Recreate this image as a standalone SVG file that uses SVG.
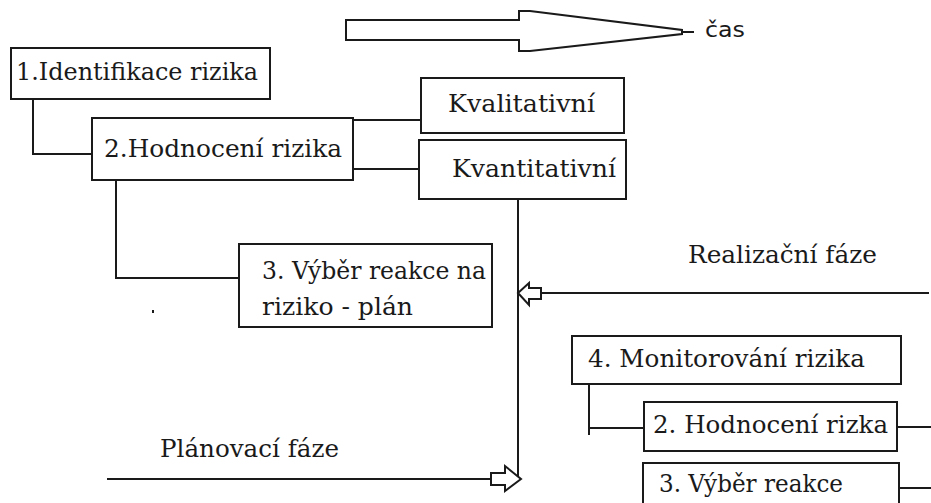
<svg xmlns="http://www.w3.org/2000/svg" width="931" height="503" viewBox="0 0 931 503">
<style>
.box{fill:#fff;stroke:#1a1a1a;stroke-width:2}
.ln{fill:none;stroke:#1a1a1a;stroke-width:2}
.arr{fill:#fff;stroke:#1a1a1a;stroke-width:2;stroke-linejoin:miter}
.t{font-family:"DejaVu Serif","Liberation Serif",serif;font-size:24px;fill:#1a1a1a}
.s{font-family:"DejaVu Sans","Liberation Sans",sans-serif;font-size:21px;fill:#1a1a1a}
</style>
<rect width="931" height="503" fill="#fff"/>
<g id="connectors">
<polyline class="ln" points="33,99 33,154 103,154"/>
<line class="ln" x1="353" y1="120" x2="426" y2="120"/>
<line class="ln" x1="353" y1="169" x2="419" y2="169"/>
<polyline class="ln" points="116,180 116,278 239,278"/>
<line class="ln" x1="518" y1="199" x2="518" y2="480"/>
<line class="ln" x1="541" y1="293" x2="929" y2="293"/>
<polygon class="arr" points="518,293 529,283 529,288 541,288 541,299 529,299 529,305"/>
<line class="ln" x1="107" y1="479" x2="491" y2="479"/>
<polygon class="arr" points="491,473 505,473 505,466 521,479 505,491 505,485 491,485"/>
<polyline class="ln" points="589,384 589,435"/>
<line class="ln" x1="589" y1="428" x2="644" y2="428"/>
<line class="ln" x1="897" y1="427" x2="931" y2="427"/>
<line class="ln" x1="899" y1="488" x2="931" y2="488"/>
</g>
<g id="time-arrow">
<polygon class="arr" points="346,20 519,20 519,11 530,11 682,30 682,34 530,51 519,51 519,40 346,40"/>
<line class="ln" x1="682" y1="32" x2="694" y2="32"/>
<text class="s" x="705" y="37" textLength="40" lengthAdjust="spacingAndGlyphs">čas</text>
</g>
<g id="n1">
<rect class="box" x="11" y="48" width="259" height="51"/>
<text class="t" x="16" y="80" textLength="242" lengthAdjust="spacingAndGlyphs">1.Identifikace rizika</text>
</g>
<g id="n2">
<rect class="box" x="92" y="118" width="261" height="62"/>
<text class="t" x="104" y="157" textLength="238" lengthAdjust="spacingAndGlyphs">2.Hodnocení rizika</text>
</g>
<g id="n-kval">
<rect class="box" x="421" y="78" width="203" height="55"/>
<text class="t" x="448" y="112" textLength="147" lengthAdjust="spacingAndGlyphs">Kvalitativní</text>
</g>
<g id="n-kvant">
<rect class="box" x="419" y="140" width="207" height="59"/>
<text class="t" x="452" y="177" textLength="164" lengthAdjust="spacingAndGlyphs">Kvantitativní</text>
</g>
<g id="n3">
<rect class="box" x="239" y="244" width="253" height="83"/>
<text class="t" x="262" y="279" textLength="224" lengthAdjust="spacingAndGlyphs">3. Výběr reakce na</text>
<text class="t" x="262" y="315" textLength="151" lengthAdjust="spacingAndGlyphs">riziko - plán</text>
</g>
<rect x="152" y="310" width="2" height="3" fill="#1a1a1a"/>
<g id="label-realizace">
<text class="t" x="688" y="263" textLength="189" lengthAdjust="spacingAndGlyphs">Realizační fáze</text>
</g>
<g id="label-planovani">
<text class="t" x="160" y="457" textLength="179" lengthAdjust="spacingAndGlyphs">Plánovací fáze</text>
</g>
<g id="n4">
<rect class="box" x="572" y="336" width="329" height="48"/>
<text class="t" x="588" y="367" textLength="277" lengthAdjust="spacingAndGlyphs">4. Monitorování rizika</text>
</g>
<g id="n4-2">
<rect class="box" x="644" y="402" width="253" height="49"/>
<text class="t" x="653" y="433" textLength="235" lengthAdjust="spacingAndGlyphs">2. Hodnocení rizka</text>
</g>
<g id="n4-3">
<rect class="box" x="643" y="463" width="256" height="50"/>
<text class="t" x="659" y="492" textLength="184" lengthAdjust="spacingAndGlyphs">3. Výběr reakce</text>
</g>
</svg>
